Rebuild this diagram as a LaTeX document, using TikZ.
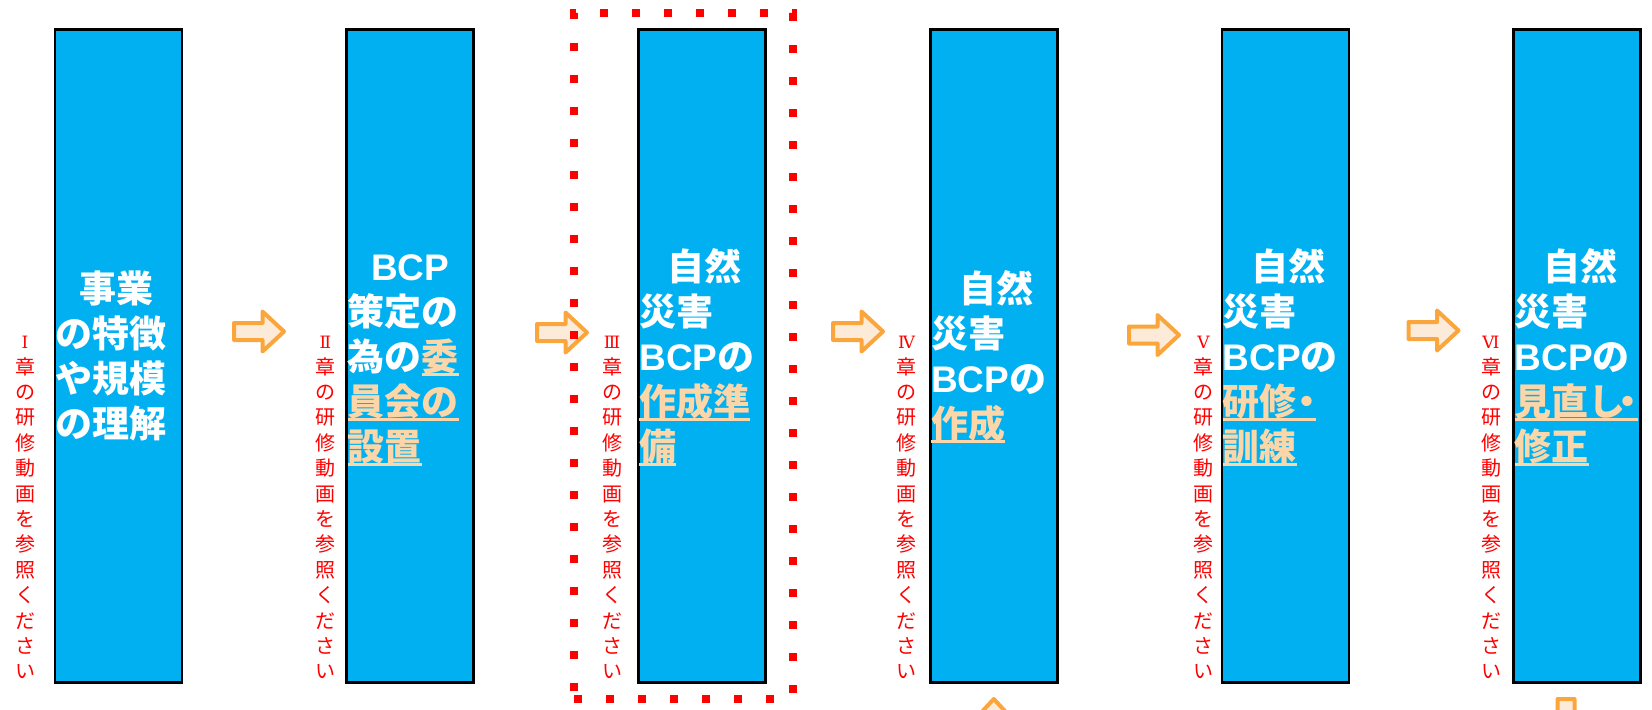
\documentclass[tikz,border=0pt]{standalone}
\usepackage{fontspec}
\newfontfamily\jp{Noto Sans CJK JP}
\newfontfamily\lsans{Liberation Sans}
\newfontfamily\rnfont{DejaVu Serif}
\definecolor{boxblue}{RGB}{0,176,240}
\definecolor{peach}{RGB}{251,214,168}
\definecolor{arrowor}{RGB}{250,166,60}
\definecolor{arrowfill}{RGB}{253,235,218}
\makeatletter
\newcommand\vcol[2]{\vtop{\baselineskip=12.7pt\lineskiplimit=-30pt\lineskip=0pt\hbox to 10pt{\hss{\rnfont\fontsize{8.5pt}{12.7pt}\selectfont #1}\hss}\@tfor\vc@c:=#2\do{\hbox to 10pt{\hss\vc@c\hss}}}}
\makeatother
\newcommand\blines[1]{\vtop{\baselineskip=22.5pt\lineskiplimit=-30pt\lineskip=0pt #1}}
\newcommand\bl[1]{\hbox{#1}}
\newcommand\pk[1]{\setbox0=\hbox{\color{peach}#1}\rlap{\color{peach}\rule[-2.6pt]{\wd0}{1.35pt}}\box0}
\newcommand\BCP{{\lsans BCP}}
\newcommand\nd{\makebox[9.75pt]{・}}
\tikzset{
  mainbox/.style={draw=black, fill=boxblue, line width=1.35pt, minimum width=63.5pt, minimum height=326.5pt, inner sep=0pt},
  btext/.style={text=white, font={\fontsize{18.5pt}{22.5pt}\selectfont\jp\bfseries}, inner sep=0pt, outer sep=0pt, anchor=base west},
  rtext/.style={text=red, font={\fontsize{10pt}{12.7pt}\selectfont\jp}, inner sep=0pt, outer sep=0pt, anchor=base},
  arrowst/.style={draw=arrowor, fill=arrowfill, line width=2pt, line join=round},
  blockarrow/.pic={\draw[arrowst] (-25,-8.5) -- (3.5,-8.5) -- (3.5,-20) -- (25,0) -- (3.5,20) -- (3.5,8.5) -- (-25,8.5) -- cycle;},
  dotbox/.style={draw=red, line width=4pt, dash pattern=on 4pt off 12pt, minimum width=109.1pt, minimum height=342.85pt, inner sep=0pt}
}
\begin{document}
\begin{tikzpicture}[x=0.5pt, y=-0.5pt]
\clip (0,0) rectangle (1652,709);
\useasboundingbox (0,0) rectangle (1652,709);
% boxes
\node[mainbox] (b1) at (118.5,356.2) {};
\node[mainbox] (b2) at (410.25,356.2) {};
\node[mainbox] (b3) at (702,356.2) {};
\node[mainbox] (b4) at (993.75,356.2) {};
\node[mainbox] (b5) at (1285.5,356.2) {};
\node[mainbox] (b6) at (1577.25,356.2) {};
% box texts
\node[btext] (t1) at (55.8,302.5) {\blines{\bl{\kern11.75pt 事業}\bl{の特徴}\bl{や規模}\bl{の理解}}};
\node[btext] (t2) at (347.55,280.5) {\blines{\bl{\kern11.75pt\BCP}\bl{策定の}\bl{為の\pk{委}}\bl{\pk{員会の}}\bl{\pk{設置}}}};
\node[btext] (t3) at (639.3,280.5) {\blines{\bl{\kern14.25pt 自然}\bl{災害}\bl{\BCP の}\bl{\pk{作成準}}\bl{\pk{備}}}};
\node[btext] (t4) at (931.05,302.5) {\blines{\bl{\kern14.25pt 自然}\bl{災害}\bl{\BCP の}\bl{\pk{作成}}}};
\node[btext] (t5) at (1222.8,280.5) {\blines{\bl{\kern14.25pt 自然}\bl{災害}\bl{\BCP の}\bl{\pk{研修\nd}}\bl{\pk{訓練}}}};
\node[btext] (t6) at (1514.55,280.5) {\blines{\bl{\kern14.25pt 自然}\bl{災害}\bl{\BCP の}\bl{\pk{見直し\kern-3.5pt\nd}}\bl{\pk{修正}}}};
% red vertical captions
\node[rtext] (r1) at (25,348.7) {\vcol{Ⅰ}{章の研修動画を参照ください}};
\node[rtext] (r2) at (325.5,348.7) {\vcol{Ⅱ}{章の研修動画を参照ください}};
\node[rtext] (r3) at (612,348.7) {\vcol{Ⅲ}{章の研修動画を参照ください}};
\node[rtext] (r4) at (906.5,348.7) {\vcol{Ⅳ}{章の研修動画を参照ください}};
\node[rtext] (r5) at (1203.5,348.7) {\vcol{Ⅴ}{章の研修動画を参照ください}};
\node[rtext] (r6) at (1491,348.7) {\vcol{Ⅵ}{章の研修動画を参照ください}};
% block arrows
\pic (a1) at (259,331.5) {blockarrow};
\pic (a2) at (562,332.5) {blockarrow};
\pic (a3) at (858,331.5) {blockarrow};
\pic (a4) at (1154,335) {blockarrow};
\pic (a5) at (1433.5,330.5) {blockarrow};
\pic[rotate=90] (a6) at (993.75,724) {blockarrow};
\pic[rotate=-90] (a7) at (1566,724) {blockarrow};
% dotted selection frame
\node[dotbox] (sel) at (683.4,356.15) {};
\end{tikzpicture}
\end{document}
